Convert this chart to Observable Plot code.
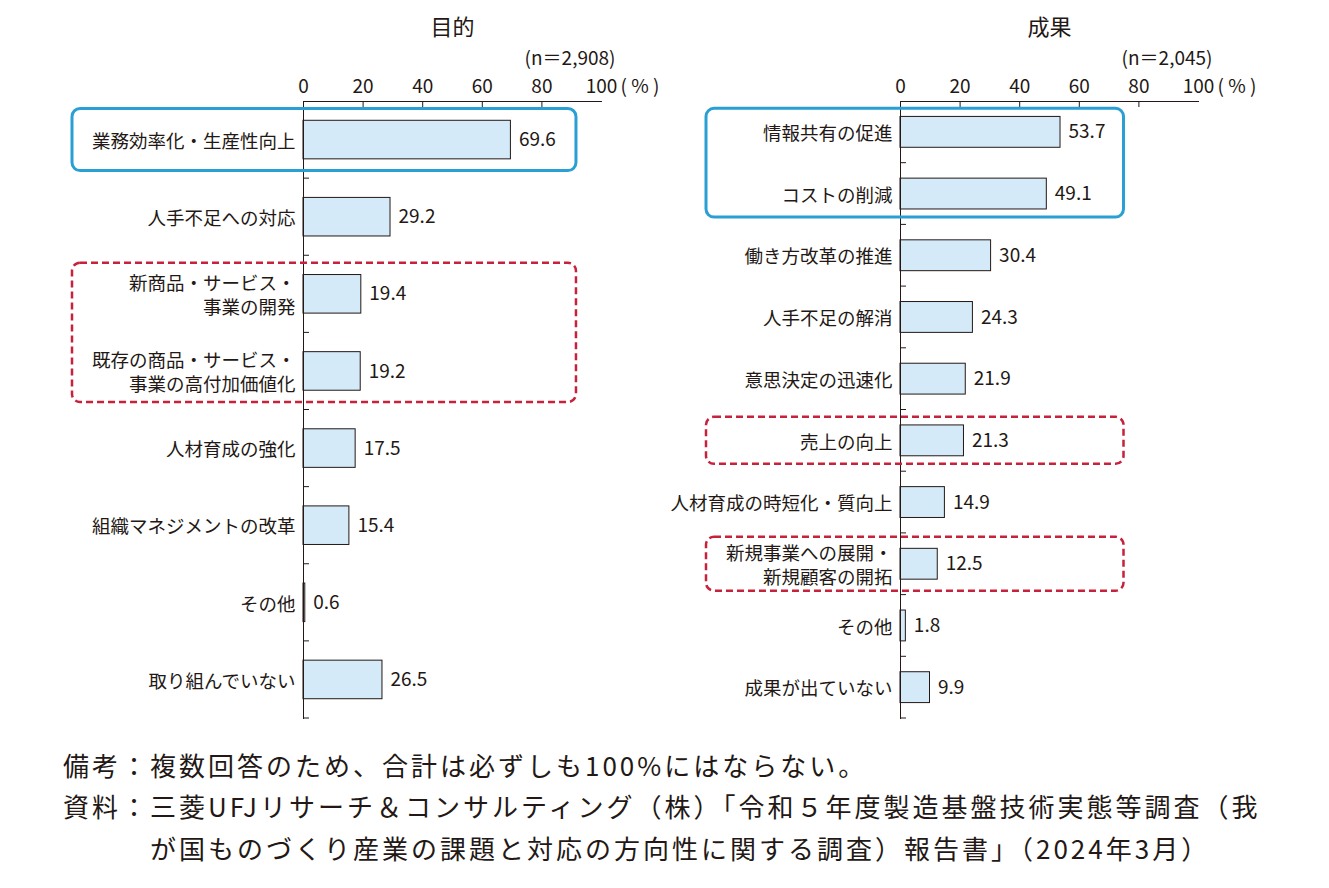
<!DOCTYPE html>
<html>
<head>
<meta charset="utf-8">
<script src="https://cdn.jsdelivr.net/npm/d3@7"></script>
<script src="https://cdn.jsdelivr.net/npm/@observablehq/plot@0.6"></script>
<style>
  html, body { margin: 0; padding: 0; background: #fff; }
  body { width: 1329px; height: 888px; position: relative; overflow: hidden;
         font-family: "Noto Sans CJK JP", "Noto Sans", sans-serif; color: #231815; }
  #left { position: absolute; left: 0; top: 0; }
  #right { position: absolute; left: 660px; top: 0; }
  #left svg, #right svg { overflow: visible; }
  .note { position: absolute; left: 63px; font-size: 26px; line-height: 36px;
          letter-spacing: 3px; white-space: nowrap; color: #231815; }
</style>
</head>
<body>
<div id="left"></div>
<div id="right"></div>
<div class="note" style="top:747px">備考：複数回答のため、合計は必ずしも100%にはならない。</div>
<div class="note" style="top:788px">資料：三菱UFJリサーチ＆コンサルティング（株）「令和５年度製造基盤技術実態等調査（我</div>
<div class="note" style="top:830px;left:150px">が国ものづくり産業の課題と対応の方向性に関する調査）報告書」（2024年3月）</div>
<script>
// ---------- data ----------
const purposeTitle = "目的";
const purposeN = "(n＝2,908)";
const purposeCategories = [
  "業務効率化・生産性向上",
  "人手不足への対応",
  "新商品・サービス・\n事業の開発",
  "既存の商品・サービス・\n事業の高付加価値化",
  "人材育成の強化",
  "組織マネジメントの改革",
  "その他",
  "取り組んでいない"
];
const purposeValues = [69.6, 29.2, 19.4, 19.2, 17.5, 15.4, 0.6, 26.5];
const purposeHighlights = [
  {first: 0, last: 0, kind: "blue"},
  {first: 2, last: 3, kind: "red"}
];

const outcomeTitle = "成果";
const outcomeN = "(n＝2,045)";
const outcomeCategories = [
  "情報共有の促進",
  "コストの削減",
  "働き方改革の推進",
  "人手不足の解消",
  "意思決定の迅速化",
  "売上の向上",
  "人材育成の時短化・質向上",
  "新規事業への展開・\n新規顧客の開拓",
  "その他",
  "成果が出ていない"
];
const outcomeValues = [53.7, 49.1, 30.4, 24.3, 21.9, 21.3, 14.9, 12.5, 1.8, 9.9];
const outcomeHighlights = [
  {first: 0, last: 1, kind: "blue"},
  {first: 5, last: 5, kind: "red"},
  {first: 7, last: 7, kind: "red"}
];

const xTicks = [0, 20, 40, 60, 80, 100];
const unitLabel = "( % )";

// ---------- style ----------
const INK = "#231815";
const BAR = "#d4eaf8";
const BLUE = "#2a9fd4";
const RED = "#c6223c";
const FONT = '"Noto Sans CJK JP", "Noto Sans", sans-serif';
const H = 730, MT = 101, MB = 12;

function drawPanel(cfg) {
  const rows = cfg.categories.map((c, i) => ({category: c, value: cfg.values[i]}));
  const innerH = H - MT - MB;
  const plot = Plot.plot({
    width: cfg.width, height: H,
    marginLeft: cfg.marginLeft, marginRight: cfg.marginRight,
    marginTop: MT, marginBottom: MB,
    style: {fontFamily: FONT, color: INK, background: "transparent", overflow: "visible"},
    x: {domain: [0, 100]},
    y: {domain: cfg.categories, paddingInner: 0.5, paddingOuter: 0.25, round: false},
    marks: [
      Plot.barX(rows, {x: "value", y: "category", fill: BAR, stroke: INK, strokeWidth: 1}),
      Plot.frame({anchor: "top", stroke: INK, strokeWidth: 1}),
      Plot.frame({anchor: "left", stroke: INK, strokeWidth: 1}),
      Plot.ruleX(xTicks.filter(t => t > 0 && t < 100), {x: d => d, stroke: INK, strokeWidth: 1, insetBottom: innerH - 6}),
      Plot.axisX({anchor: "top", ticks: xTicks, tickSize: 0, tickPadding: 9, fontSize: 19, label: null, tickFormat: d => String(d), fill: INK}),
      Plot.axisY({anchor: "left", tickSize: 0, tickPadding: 8, fontSize: 18.5, lineHeight: 1.3, label: null, fill: INK}),
      Plot.text(rows, {x: "value", y: "category", text: d => d.value.toFixed(1), dx: 8, textAnchor: "start", fontSize: 19, fill: INK}),
      Plot.text([cfg.title], {text: d => d, frameAnchor: "top", lineAnchor: "bottom", dy: -67, fontSize: 22, fill: INK}),
      Plot.text([cfg.n], {text: d => d, frameAnchor: "top-right", textAnchor: "end", lineAnchor: "bottom", dx: 14, dy: -37, fontSize: 19, fill: INK}),
      Plot.text([unitLabel], {text: d => d, frameAnchor: "top-right", textAnchor: "start", lineAnchor: "bottom", dx: 19, dy: -9, fontSize: 19, fill: INK})
    ]
  });

  // category boundary ticks and highlight boxes, placed through the plot's scales
  const y = plot.scale("y"), x = plot.scale("x");
  const bw = y.bandwidth, step = y.step;
  const centers = cfg.categories.map(c => y.apply(c) + bw / 2);
  const x0 = x.apply(0);
  const g = d3.select(plot).append("g");
  g.selectAll("line.bt").data(centers).join("line")
    .attr("x1", x0).attr("x2", x0 + 6)
    .attr("y1", d => d + step / 2).attr("y2", d => d + step / 2)
    .attr("stroke", INK).attr("stroke-width", 1);
  cfg.highlights.forEach(h => {
    const multi = cfg.categories[h.first].includes("\n") || cfg.categories[h.last].includes("\n");
    const pad = multi ? cfg.padMulti : cfg.pad;
    const top = centers[h.first] - pad, bottom = centers[h.last] + pad;
    const right = x.apply(cfg.boxRight);
    const r = g.append("rect")
      .attr("x", cfg.boxLeft).attr("y", top)
      .attr("width", right - cfg.boxLeft).attr("height", bottom - top)
      .attr("rx", 8).attr("ry", 8).attr("fill", "none");
    if (h.kind === "blue") {
      r.attr("stroke", BLUE).attr("stroke-width", 3);
    } else {
      r.attr("stroke", RED).attr("stroke-width", 2.5).attr("stroke-dasharray", "7,4");
    }
  });
  return plot;
}

document.getElementById("left").appendChild(drawPanel({
  title: purposeTitle, n: purposeN, categories: purposeCategories, values: purposeValues,
  highlights: purposeHighlights,
  width: 660, marginLeft: 303, marginRight: 59,
  boxLeft: 72, boxRight: 91.6, pad: 31, padMulti: 31
}));
document.getElementById("right").appendChild(drawPanel({
  title: outcomeTitle, n: outcomeN, categories: outcomeCategories, values: outcomeValues,
  highlights: outcomeHighlights,
  width: 669, marginLeft: 240, marginRight: 131,
  boxLeft: 46, boxRight: 75, pad: 23.5, padMulti: 27
}));
</script>
</body>
</html>
